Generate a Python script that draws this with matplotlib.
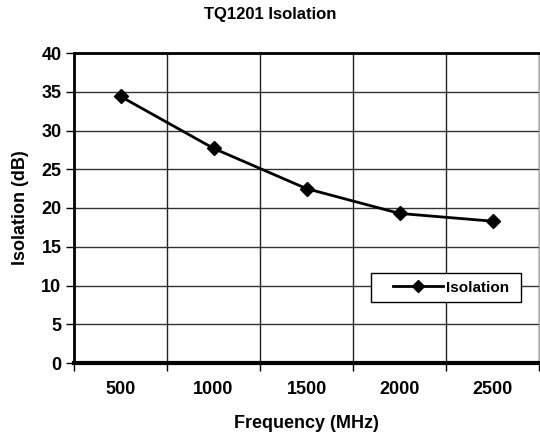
import matplotlib

matplotlib.use("Agg")
import numpy as np
import matplotlib.pyplot as plt
from matplotlib.patches import Rectangle

# Data
freqs = ["500", "1000", "1500", "2000", "2500"]
isolation = [34.4, 27.7, 22.5, 19.3, 18.3]

plt.rcParams["font.family"] = ["Liberation Sans Narrow", "Liberation Sans", "DejaVu Sans"]
plt.rcParams["font.weight"] = "bold"

fig = plt.figure(figsize=(5.4, 4.45), dpi=100)
ax = fig.add_axes([74 / 540, 1 - 363 / 445, 465 / 540, 310 / 445])

x = np.arange(len(freqs))
ax.plot(x, isolation, color="black", lw=2, marker="D", ms=7, label="Isolation")

ax.set_xlim(-0.5, len(freqs) - 0.5)
ax.set_ylim(0, 40)
ax.set_yticks(np.arange(0, 41, 5))
ax.set_xticks(x)
ax.set_xticklabels(freqs)
ax.set_xticks(np.arange(-0.5, len(freqs), 1), minor=True)

# Grid lines (Excel style: vertical lines between categories)
ax.grid(axis="y", which="major", color="#333333", lw=1)
ax.grid(axis="x", which="minor", color="#222222", lw=1)
ax.set_axisbelow(True)

ax.tick_params(axis="x", which="major", length=0, pad=13, labelsize=13)
ax.tick_params(axis="x", which="minor", length=6, width=1, direction="out")
ax.tick_params(axis="y", length=6, width=1, direction="out", labelsize=13, pad=3)

for side in ["left", "top"]:
    ax.spines[side].set_linewidth(2)
ax.spines["bottom"].set_linewidth(3)
ax.spines["right"].set_color("#aaaaaa")
ax.spines["right"].set_linewidth(1)

ax.set_xlabel("Frequency (MHz)", fontsize=13, fontweight="bold", labelpad=12)
ax.set_ylabel("Isolation (dB)", fontsize=13, fontweight="bold", labelpad=9)
fig.text(0.5, 1 - 15 / 445, "TQ1201 Isolation", ha="center", va="center",
         fontsize=12, fontweight="bold")

# Legend box drawn separately so it can be wider than the legend content
ax.add_patch(Rectangle((297 / 465, 61 / 310), 150 / 465, 29 / 310,
                       transform=ax.transAxes, facecolor="white",
                       edgecolor="black", lw=1, zorder=4))
leg = ax.legend(loc="center left", bbox_to_anchor=(319 / 465, 75.5 / 310),
                frameon=False, fontsize=11, handlelength=3.3, handletextpad=0.2,
                borderpad=0, borderaxespad=0, markerscale=0.9)
leg.set_zorder(5)

fig.savefig("out.png", dpi=100)
